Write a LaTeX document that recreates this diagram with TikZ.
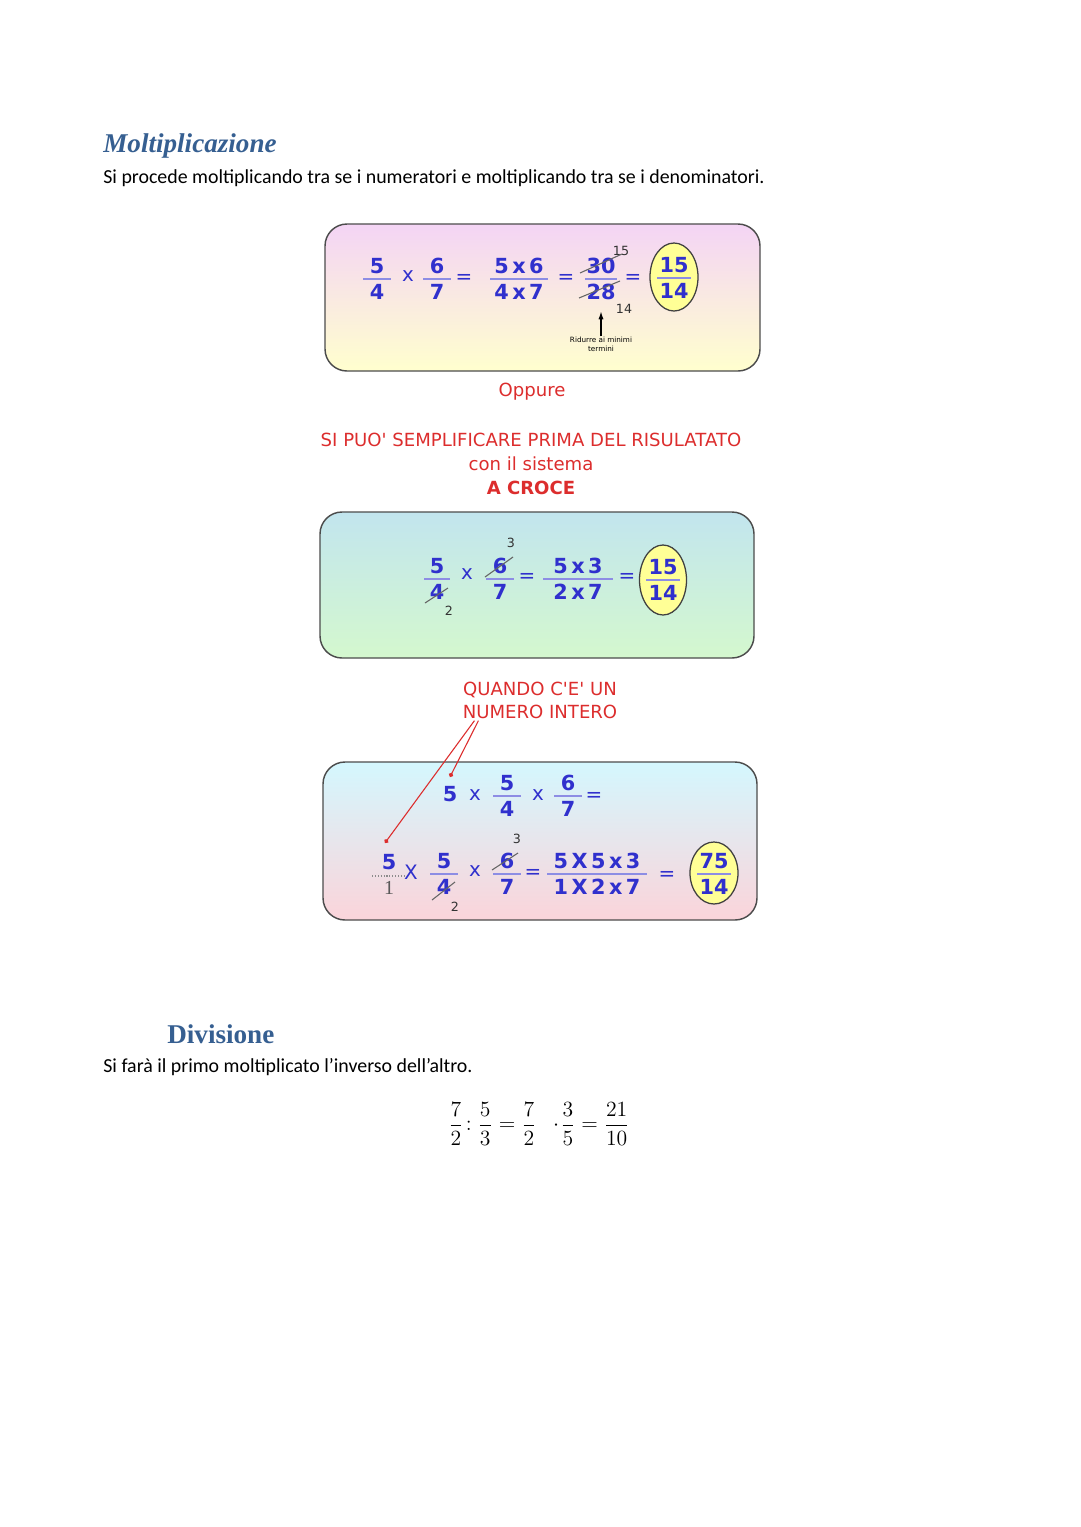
\documentclass[tikz,border=0pt]{standalone}
\usepackage{amsmath}
\usepackage{fontspec}
\setmainfont{Carlito}
\newfontfamily\headfont{Liberation Serif}
\newfontfamily\boxfont{DejaVu Sans}
\usetikzlibrary{arrows.meta,shapes.geometric,positioning,calc}
\definecolor{headblue}{RGB}{54,95,145}
\definecolor{boxblue}{RGB}{48,48,205}
\definecolor{notered}{RGB}{220,45,45}
\definecolor{ovalfill}{RGB}{255,255,150}
\definecolor{pinktop}{RGB}{244,212,245}
\definecolor{yellowbot}{RGB}{255,255,206}
\definecolor{bluetop}{RGB}{194,229,238}
\definecolor{greenbot}{RGB}{212,248,206}
\definecolor{cyantop}{RGB}{212,247,254}
\definecolor{pinkbot}{RGB}{251,212,218}
\newdimen\pxu \pxu=0.019444cm
\tikzset{
    numtxt/.style={font=\boxfont\bfseries\fontsize{11.5}{13}\selectfont, text=boxblue, inner sep=0pt},
    optxt/.style={font=\boxfont\fontsize{11}{12}\selectfont, text=boxblue, inner sep=0pt},
    smallnum/.style={font=\boxfont\fontsize{7}{8}\selectfont, text=black!80, inner sep=0pt},
    fracbar/.style={draw=boxblue!55, line width=0.6pt},
    strike/.style={draw=black!60, line width=0.6pt},
    redtxt/.style={font=\boxfont\fontsize{10}{13.5}\selectfont, text=notered, align=center, inner sep=0pt},
    cardbox/.style={draw=black!70, line width=0.8pt, rounded corners=22\pxu},
    oval/.style={ellipse, draw=black!75, line width=0.7pt, fill=ovalfill, inner sep=0pt},
    pointer/.style={draw=notered, line width=0.6pt, -{Circle[length=2.5pt]}},
    upmark/.style={-{Latex[length=1.6mm, width=1mm]}, thick}
}
% name, x, y of bar, numerator, denominator, half bar
\newcommand{\fracat}[6]{%
    \node[numtxt] (#1-n) at (#2,#3-13) {#4};
    \node[numtxt] (#1-d) at (#2,#3+13) {#5};
    \draw[fracbar] (#2-#6,#3) -- (#2+#6,#3);
}

\begin{document}
\begin{tikzpicture}[x=0.019444cm, y=-0.019444cm]
\useasboundingbox (0,0) rectangle (1080,1527);

\node[anchor=base west, inner sep=0pt, font=\headfont\bfseries\itshape\fontsize{15}{17}\selectfont, text=headblue] (titmul) at (103,152) {Moltiplicazione};
\node[anchor=base west, inner sep=0pt, font=\fontsize{11}{13}\selectfont] (descmul) at (103,183) {Si procede moltiplicando tra se i numeratori e moltiplicando tra se i denominatori.};

% first card
\draw[cardbox, top color=pinktop, bottom color=yellowbot] (325,224) rectangle (760,371);
\fracat{f1}{377}{279}{5}{4}{14}
\node[optxt] (t1) at (408,276) {x};
\fracat{f2}{437}{279}{6}{7}{14}
\node[optxt] (e1) at (464,279) {=};
\fracat{f3}{519}{279}{5\,x\,6}{4\,x\,7}{29}
\node[optxt] (e2) at (566,279) {=};
\fracat{f4}{601}{279}{30}{28}{16}
\draw[strike] (580,273) -- (622,254);
\draw[strike] (579,298) -- (620,281);
\node[smallnum] (s15) at (621,251) {15};
\node[smallnum] (s14) at (624,309) {14};
\node[optxt] (e3) at (633,279) {=};
\node[oval, minimum width=48\pxu, minimum height=68\pxu] (res1) at (674,277) {};
\fracat{f5}{674}{278}{15}{14}{17}
\node[font=\boxfont\fontsize{4}{5}\selectfont, align=center, inner sep=0pt] (ridurre) at (601,344) {Ridurre ai minimi\\termini};
\draw[upmark] (ridurre.north) -- ([yshift=-6pt]f4-d.south);

\node[redtxt] (oppure) at (532,392) {Oppure};
\node[redtxt] (semplif) at (531,464) {SI PUO' SEMPLIFICARE PRIMA DEL RISULATATO\\con il sistema\\\textbf{A CROCE}};

% second card
\draw[cardbox, top color=bluetop, bottom color=greenbot] (320,512) rectangle (754,658);
\fracat{f6}{437}{579}{5}{4}{13}
\draw[strike] (425,603) -- (448,588);
\node[smallnum] (s2a) at (449,611) {2};
\node[optxt] (t2) at (467,574) {x};
\fracat{f7}{500}{579}{6}{7}{14}
\draw[strike] (485,577) -- (513,557);
\node[smallnum] (s3a) at (511,543) {3};
\node[optxt] (e4) at (527,578) {=};
\fracat{f8}{578}{579}{5\,x\,3}{2\,x\,7}{35}
\node[optxt] (e5) at (627,578) {=};
\node[oval, minimum width=47\pxu, minimum height=70\pxu] (res2) at (663,580) {};
\fracat{f9}{663}{580}{15}{14}{17}

\node[redtxt, font=\boxfont\fontsize{10}{12.7}\selectfont] (quando) at (540,700) {QUANDO C'E' UN\\NUMERO INTERO};

% third card
\draw[cardbox, top color=cyantop, bottom color=pinkbot] (323,762) rectangle (757,920);
\node[numtxt] (five1) at (450,794) {5};
\node[optxt] (t3) at (475,795) {x};
\fracat{f10}{507}{796}{5}{4}{14}
\node[optxt] (t4) at (538,795) {x};
\fracat{f11}{568}{796}{6}{7}{14}
\node[optxt] (e6) at (594,797) {=};

\node[numtxt] (g1-n) at (389,862) {5};
\node[inner sep=0pt, font=\headfont\fontsize{11}{13}\selectfont, text=black!65] (g1-d) at (389,888) {1};
\draw[densely dotted, draw=black!45, line width=0.6pt] (372,876) -- (406,876);
\node[optxt] (t5) at (411,872) {X};
\fracat{f13}{444}{874}{5}{4}{14}
\draw[strike] (432,900) -- (455,882);
\node[smallnum] (s2b) at (455,907) {2};
\node[optxt] (t6) at (475,871) {x};
\fracat{f14}{507}{874}{6}{7}{14}
\draw[strike] (492,870) -- (518,853);
\node[smallnum] (s3b) at (517,839) {3};
\node[optxt] (e7) at (533,874) {=};
\fracat{f15}{597}{874}{5\,X\,5\,x\,3}{1\,X\,2\,x\,7}{50}
\node[optxt] (e8) at (667,876) {=};
\node[oval, minimum width=48\pxu, minimum height=62\pxu] (res3) at (714,873) {};
\fracat{f16}{714}{874}{75}{14}{17}

\draw[pointer] ($(quando.south west)+(16,2)$) -- ($(five1.north)+(0,-9)$);
\draw[pointer] ($(quando.south west)+(12,2)$) -- ($(g1-n.north)+(-4,-11)$);

% division
\node[anchor=base west, inner sep=0pt, font=\headfont\bfseries\fontsize{15}{17}\selectfont, text=headblue] (titdiv) at (167,1043) {Divisione};
\node[anchor=base west, inner sep=0pt, font=\fontsize{11}{13}\selectfont] (descdiv) at (103,1072) {Si farà il primo moltiplicato l’inverso dell’altro.};
\node[inner sep=0pt, font=\fontsize{11.5}{13}\selectfont] (divform) at (539,1124) {$\dfrac{7}{2}\!:\dfrac{5}{3}=\dfrac{7}{2}\;\;\cdot\!\dfrac{3}{5}=\dfrac{21}{10}$};
\end{tikzpicture}
\end{document}
